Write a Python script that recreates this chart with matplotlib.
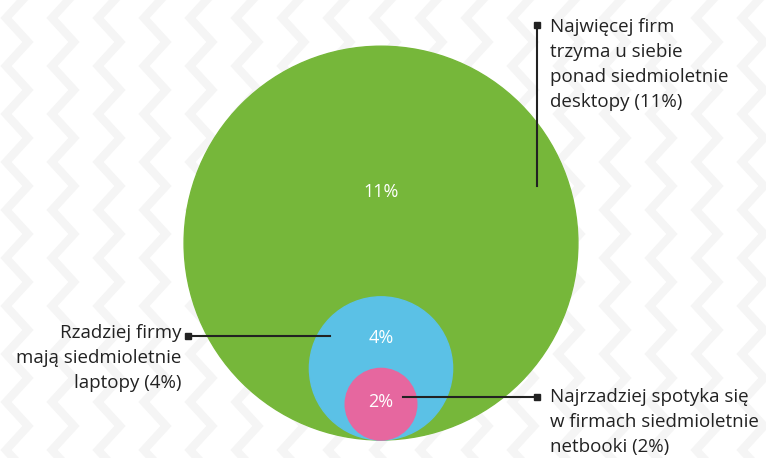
import numpy as np
import matplotlib.pyplot as plt
from matplotlib.patches import Circle

# data
values = [11, 4, 2]
labels = ["11%", "4%", "2%"]
colors = ["#76b73a", "#5bc1e6", "#e6679f"]
notes = [
    "Najwięcej firm\ntrzyma u siebie\nponad siedmioletnie\ndesktopy (11%)",
    "Rzadziej firmy\nmają siedmioletnie\nlaptopy (4%)",
    "Najrzadziej spotyka się\nw firmach siedmioletnie\nnetbooki (2%)",
]

plt.rcParams['font.family'] = ['Open Sans', 'DejaVu Sans']

fig = plt.figure(figsize=(7.66, 4.58), dpi=100)
ax = fig.add_axes([0, 0, 1, 1])
ax.set_xlim(0, 766)
ax.set_ylim(458, 0)
ax.set_aspect('equal')
ax.axis('off')

# faint zigzag background
ys = np.arange(-30, 500, 24)
for x0 in range(-40, 800, 46):
    xs = x0 + np.where(np.arange(len(ys)) % 2 == 0, 0, 22)
    ax.plot(xs, ys, color="#f5f5f5", lw=6, solid_joinstyle='miter', zorder=0)

# nested circles, all touching at the bottom
scale = 17.9
cx, bottom = 381, 440
for v, c in zip(values, colors):
    r = v * scale
    ax.add_patch(Circle((cx, bottom - r), r, color=c, zorder=2))

for lab, y in zip(labels, [192, 338, 402]):
    ax.text(cx, y, lab, color="white", fontsize=13, ha='center', va='center', zorder=5)

lc = "#222222"
# leader lines
ax.plot([537, 537], [25, 186], color=lc, lw=1.5, zorder=4)
ax.plot([537], [25], marker='s', ms=5, color=lc, zorder=4)
ax.plot([188, 330], [336, 336], color=lc, lw=1.5, zorder=4)
ax.plot([188], [336], marker='s', ms=5, color=lc, zorder=4)
ax.plot([403, 537], [397, 397], color=lc, lw=1.5, zorder=4)
ax.plot([537], [397], marker='s', ms=5, color=lc, zorder=4)

def note(text, x, y0, ha):
    for i, line in enumerate(text.split("\n")):
        ax.text(x, y0 + i * 25, line, color=lc, fontsize=13.5, ha=ha, va='center', zorder=5)

note(notes[0], 550, 27, 'left')
note(notes[1], 181, 333, 'right')
note(notes[2], 550, 397, 'left')

fig.savefig("out.png", dpi=100)
